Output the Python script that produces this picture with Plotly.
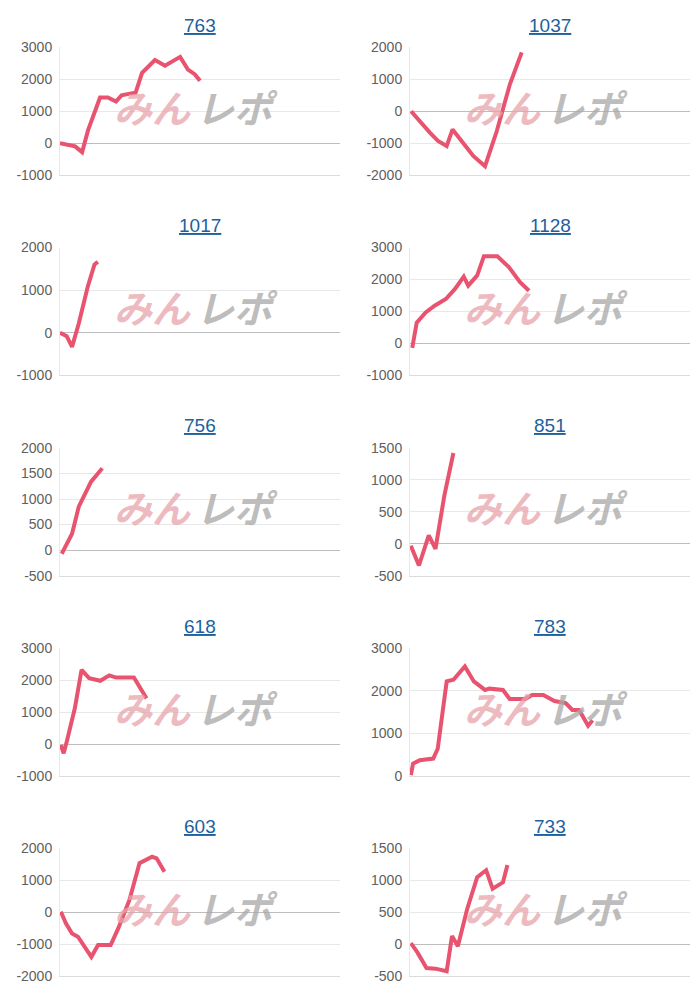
import plotly.graph_objects as go

titles = ["763", "1037", "1017", "1128", "756", "851", "618", "783", "603", "733"]

x_763 = [0, 3.6, 5.4, 7.9, 10, 14.3, 17.1, 20, 22, 25, 27, 29.3, 33.9, 37.5, 42.9, 45.7, 48.2, 50]
y_763 = [0, -50, -100, -280, 400, 1430, 1430, 1300, 1500, 1550, 1580, 2200, 2600, 2420, 2700, 2300, 2150, 1950]
x_1037 = [0.4, 1.8, 7.1, 10, 13.1, 15.2, 17.9, 22.6, 26.8, 31, 35.7, 39.9]
y_1037 = [0, -150, -670, -930, -1090, -570, -880, -1400, -1720, -620, 850, 1840]
x_1017 = [0, 2.4, 4.3, 6.7, 9.9, 12.3, 13.5]
y_1017 = [0, -80, -330, 220, 1080, 1600, 1670]
x_1128 = [0.8, 2.4, 5.6, 8.8, 12.8, 16, 19.2, 20.8, 24, 26.4, 31.2, 35.3, 39.3, 42.5]
y_1128 = [-140, 650, 970, 1180, 1390, 1700, 2090, 1810, 2130, 2730, 2730, 2390, 1920, 1650]
x_756 = [0.6, 1.9, 4.3, 6.7, 9.1, 11.1, 13.1, 15.1]
y_756 = [-70, 60, 320, 850, 1140, 1340, 1470, 1600]
x_851 = [0.3, 3.2, 6.7, 9.1, 12.3, 15.5]
y_851 = [-30, -340, 130, -80, 760, 1420]
x_618 = [0.3, 1.3, 2.4, 5.3, 7.7, 10.4, 14.4, 17.6, 20, 26.4, 30.9]
y_618 = [-30, -290, 70, 1120, 2320, 2060, 1980, 2150, 2080, 2080, 1430]
x_783 = [0.3, 1.1, 3.5, 8.3, 9.9, 13.1, 15.5, 19.6, 22.8, 26.8, 28.4, 33.2, 35.6, 41.2, 43.6, 47.6, 51.6, 55.6, 58, 60.4, 63.6, 65.2]
y_783 = [20, 290, 370, 410, 640, 2220, 2260, 2570, 2220, 2020, 2050, 2020, 1810, 1810, 1900, 1900, 1760, 1710, 1550, 1550, 1180, 1310]
x_603 = [0.3, 2.1, 4.3, 6.4, 11.2, 13.6, 18.1, 20.8, 24.8, 28.4, 32.9, 34.5, 37.3]
y_603 = [20, -340, -660, -760, -1390, -1020, -1020, -500, 390, 1540, 1740, 1690, 1270]
x_733 = [0.3, 2.7, 5.9, 9.1, 13.1, 15, 17.1, 20.4, 24, 27.2, 29.5, 33.2, 34.8]
y_733 = [20, -130, -370, -380, -420, 130, -30, 550, 1050, 1160, 870, 970, 1240]

xs = [x_763, x_1037, x_1017, x_1128, x_756, x_851, x_618, x_783, x_603, x_733]
ys = [y_763, y_1037, y_1017, y_1128, y_756, y_851, y_618, y_783, y_603, y_733]
yranges = [(-1000, 3000), (-2000, 2000), (-1000, 2000), (-1000, 3000), (-500, 2000),
           (-500, 1500), (-1000, 3000), (0, 3000), (-2000, 2000), (-500, 1500)]
ydtick = [1000, 1000, 1000, 1000, 500, 500, 1000, 1000, 1000, 500]

W, H = 700, 1000
OX, OY, SY = 8.0, 14.7, 0.985


def px(R):
    return (R - OX) / W


def py(R):
    return 1 - ((R - OY) / SY) / H


fig = go.Figure()
layout = dict(width=W, height=H, margin=dict(l=0, r=0, t=0, b=0),
              paper_bgcolor="white", plot_bgcolor="white", showlegend=False,
              font=dict(family="Liberation Sans, Arial", color="#666"))
annotations = []
for i in range(10):
    col, row = i % 2, i // 2
    x0 = 60 if col == 0 else 410
    x1 = 340 if col == 0 else 690
    top = 46 + 200.5 * row
    bot = top + 128
    n = i + 1
    xa = "x" if n == 1 else f"x{n}"
    ya = "y" if n == 1 else f"y{n}"
    fig.add_trace(go.Scatter(x=xs[i], y=ys[i], mode="lines", xaxis=xa, yaxis=ya,
                             line=dict(color="#e8546f", width=4), hoverinfo="skip"))
    layout["xaxis" if n == 1 else f"xaxis{n}"] = dict(
        domain=[px(x0), px(x1)], range=[0, 100], showticklabels=False, showgrid=False,
        zeroline=False, showline=True, linecolor="#dcdcdc", anchor=ya, ticks="")
    lo, hi = yranges[i]
    tv = list(range(lo, hi + 1, ydtick[i]))
    layout["yaxis" if n == 1 else f"yaxis{n}"] = dict(
        domain=[py(bot), py(top)], range=[lo, hi], tickvals=tv, ticktext=[str(v) for v in tv],
        showgrid=True, gridcolor="#e8e8e8", zeroline=True, zerolinecolor="#bdbdbd",
        zerolinewidth=1, showline=True, linecolor="#e8e8e8", anchor=xa,
        tickfont=dict(size=14, color="#606060"), ticklen=4, ticks="outside", tickcolor="white")
    cx = (x0 + x1) / 2
    annotations.append(dict(x=px(cx), y=py(top - 22), xref="paper", yref="paper",
                            xanchor="center", yanchor="middle",
                            text=f"<u>{titles[i]}</u>", showarrow=False,
                            font=dict(size=19, color="#1e5f9e", family="Liberation Sans, Arial")))
    wy = top + 59
    annotations.append(dict(x=px(x0 + 92), y=py(wy), xref="paper", yref="paper",
                            xanchor="center", yanchor="middle",
                            text="<b><i>みん</i></b>", showarrow=False, opacity=0.75,
                            font=dict(size=38, color="#e6a4aa", family="Noto Sans CJK JP")))
    annotations.append(dict(x=px(x0 + 177), y=py(wy), xref="paper", yref="paper",
                            xanchor="center", yanchor="middle",
                            text="<b><i>レポ</i></b>", showarrow=False, opacity=0.75,
                            font=dict(size=38, color="#a8a8a8", family="Noto Sans CJK JP")))
layout["annotations"] = annotations
fig.update_layout(**layout)
fig.write_html("out.html")
